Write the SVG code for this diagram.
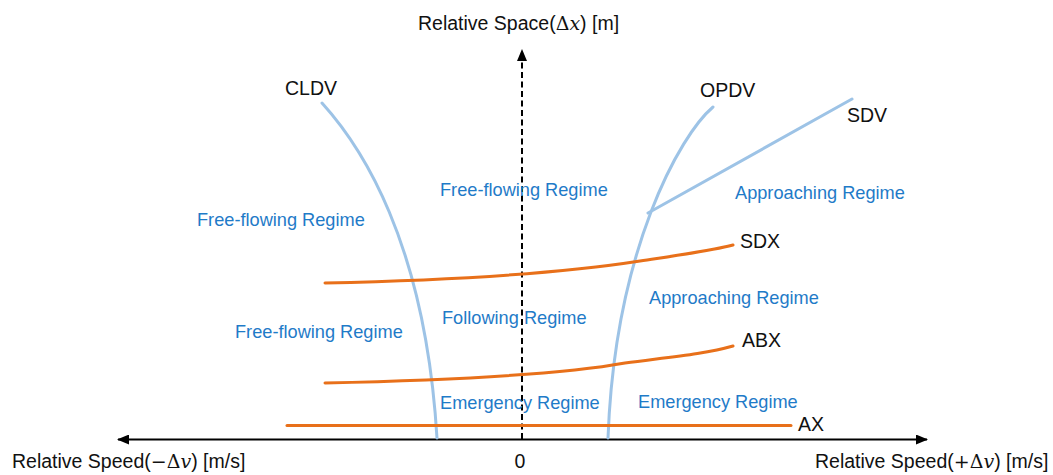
<svg xmlns="http://www.w3.org/2000/svg" width="1053" height="475" viewBox="0 0 1053 475">
  <style>
    .lbl { font-family: "Liberation Sans", Arial, sans-serif; font-size: 19.5px; fill: #111; }
    .reg { font-family: "Liberation Sans", Arial, sans-serif; font-size: 18.2px; fill: #1f7bc8; }
    .math { font-family: "DejaVu Serif", "Liberation Serif", serif; font-size: 19px; }
    .mi { font-family: "DejaVu Serif", "Liberation Serif", serif; font-style: italic; font-size: 19px; }
    .axis { stroke: #000; stroke-width: 2; fill: none; }
    .dv { stroke: #9dc3e6; stroke-width: 3; fill: none; stroke-linecap: round; }
    .dx { stroke: #e8701a; stroke-width: 3; fill: none; stroke-linecap: round; }
  </style>
  <defs>
    <marker id="arrow" viewBox="0 0 12 10" refX="11" refY="5" markerWidth="12" markerHeight="10" markerUnits="userSpaceOnUse" orient="auto-start-reverse">
      <path d="M0,0 L12,5 L0,10 Z" fill="#000"/>
    </marker>
  </defs>

  <rect width="1053" height="475" fill="#fff"/>

  <!-- axes -->
  <g id="axes">
    <line class="axis" x1="118" y1="439.5" x2="927" y2="439.5" marker-start="url(#arrow)" marker-end="url(#arrow)"/>
    <line class="axis" x1="522" y1="439" x2="522" y2="50" stroke-dasharray="6,3.5" marker-end="url(#arrow)"/>
  </g>

  <!-- boundary curves -->
  <g id="connectors">
    <path id="cldv-curve" class="dv" d="M322,103 C360,145 425,240 437,438"/>
    <path id="opdv-curve" class="dv" d="M713,107 C680,135 615,250 608,438"/>
    <path id="sdv-line" class="dv" d="M648,213 L852,99"/>
    <path id="sdx-curve" class="dx" d="M325,283 C460,280 570,272 640,261 C680,255 710,251 733,245"/>
    <path id="abx-curve" class="dx" d="M325,383 C460,380 570,373 625,363 C670,357 705,354 733,346"/>
    <path id="ax-line" class="dx" d="M287,425.5 L791,425.5"/>
  </g>

  <!-- axis labels -->
  <g id="axis-labels">
    <text class="lbl" x="418" y="30">Relative Space(<tspan class="math">Δ</tspan><tspan class="mi">x</tspan>) [m]</text>
    <text class="lbl" x="12" y="468">Relative Speed(<tspan class="math">−Δ</tspan><tspan class="mi">v</tspan>) [m/s]</text>
    <text class="lbl" x="815" y="468">Relative Speed(<tspan class="math">+Δ</tspan><tspan class="mi">v</tspan>) [m/s]</text>
    <text class="lbl" x="520" y="468" text-anchor="middle">0</text>
  </g>

  <!-- curve names -->
  <g id="node-cldv"><text class="lbl" x="285" y="95">CLDV</text></g>
  <g id="node-opdv"><text class="lbl" x="700" y="97">OPDV</text></g>
  <g id="node-sdv"><text class="lbl" x="847" y="122">SDV</text></g>
  <g id="node-sdx"><text class="lbl" x="740" y="248">SDX</text></g>
  <g id="node-abx"><text class="lbl" x="742" y="347">ABX</text></g>
  <g id="node-ax"><text class="lbl" x="798" y="431">AX</text></g>

  <!-- regime labels -->
  <g id="regime-free-1"><text class="reg" x="197" y="226">Free-flowing Regime</text></g>
  <g id="regime-free-2"><text class="reg" x="440" y="196">Free-flowing Regime</text></g>
  <g id="regime-approach-1"><text class="reg" x="735" y="199">Approaching Regime</text></g>
  <g id="regime-free-3"><text class="reg" x="235" y="338">Free-flowing Regime</text></g>
  <g id="regime-following"><text class="reg" x="442" y="324">Following Regime</text></g>
  <g id="regime-approach-2"><text class="reg" x="649" y="304">Approaching Regime</text></g>
  <g id="regime-emergency-1"><text class="reg" x="440" y="409">Emergency Regime</text></g>
  <g id="regime-emergency-2"><text class="reg" x="638" y="408">Emergency Regime</text></g>
</svg>
